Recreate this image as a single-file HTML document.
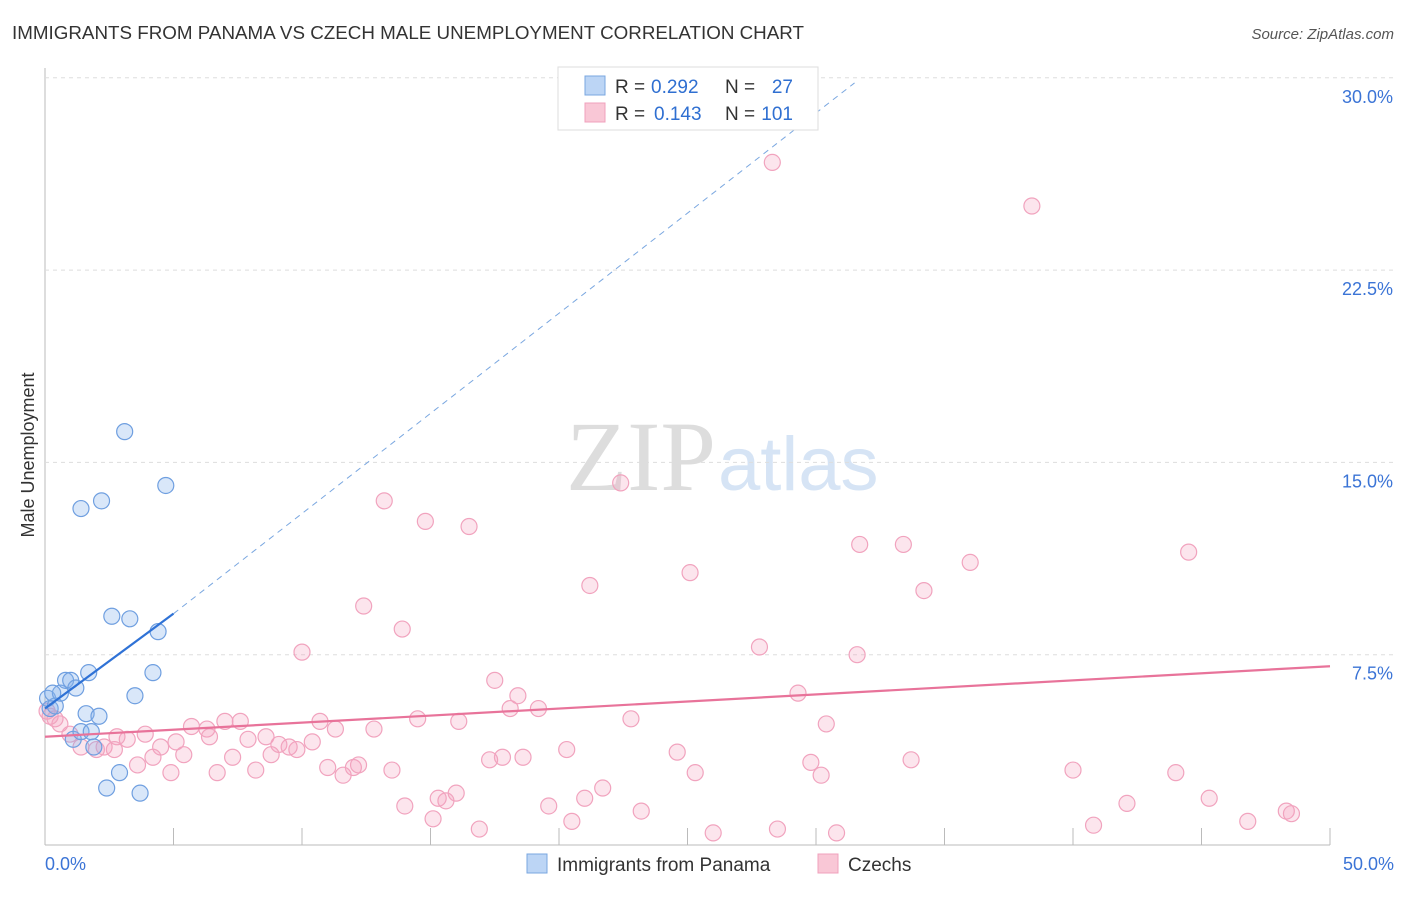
<!DOCTYPE html>
<html><head><meta charset="utf-8"><style>
body{margin:0;background:#fff;font-family:"Liberation Sans",sans-serif;}
svg text{font-family:"Liberation Sans",sans-serif;}
</style></head><body>
<svg id="c" width="1406" height="892">
<text x="12" y="39" font-size="18" fill="#333" textLength="792" lengthAdjust="spacingAndGlyphs">IMMIGRANTS FROM PANAMA VS CZECH MALE UNEMPLOYMENT CORRELATION CHART</text>
<text x="1394" y="39" font-size="15" fill="#555" font-style="italic" text-anchor="end">Source: ZipAtlas.com</text>
<text x="716" y="490" font-size="100" fill="#ddd" text-anchor="end" style="font-family:'Liberation Serif',serif">ZIP</text>
<text x="718" y="490" font-size="76" fill="#d6e4f5">atlas</text>
<text transform="translate(34,455) rotate(-90)" font-size="18" fill="#333" text-anchor="middle">Male Unemployment</text>
<g id="grid"></g><g id="marks"></g>
<g>
<rect x="558" y="67" width="260" height="63" fill="#fff" stroke="#ddd"/>
<rect x="585" y="76" width="20" height="19" fill="#bcd5f5" stroke="#7aa7e0"/>
<rect x="585" y="103" width="20" height="19" fill="#f9c7d6" stroke="#f0a0bc"/>
<text x="615" y="93" font-size="19" fill="#333">R =</text>
<text x="651" y="93" font-size="19" fill="#2f6fd1">0.292</text>
<text x="725" y="93" font-size="19" fill="#333">N =</text>
<text x="793" y="93" font-size="19" fill="#2f6fd1" text-anchor="end">27</text>
<text x="615" y="120" font-size="19" fill="#333">R =</text>
<text x="654" y="120" font-size="19" fill="#2f6fd1">0.143</text>
<text x="725" y="120" font-size="19" fill="#333">N =</text>
<text x="793" y="120" font-size="19" fill="#2f6fd1" text-anchor="end">101</text>
</g>
<g>
<rect x="527" y="854" width="20" height="19" fill="#bcd5f5" stroke="#7aa7e0"/>
<text x="557" y="871" font-size="19" fill="#333">Immigrants from Panama</text>
<rect x="818" y="854" width="20" height="19" fill="#f9c7d6" stroke="#f0a0bc"/>
<text x="848" y="871" font-size="19" fill="#333">Czechs</text>
</g>
</svg>
<script>
const yTicks=[7.5,15,22.5,30];
const xTickLabels=["0.0%","50.0%"];
const blueX=[0.1,0.2,0.4,0.6,0.8,1.0,1.2,1.7,1.6,2.1,1.1,1.4,1.8,1.9,1.4,2.2,3.1,4.7,2.6,3.3,4.4,4.2,3.5,2.9,2.4,3.7,0.3];
const blueY=[5.8,5.4,5.5,6.0,6.5,6.5,6.2,6.8,5.2,5.1,4.2,4.5,4.5,3.9,13.2,13.5,16.2,14.1,9.0,8.9,8.4,6.8,5.9,2.9,2.3,2.1,6.0];
const pinkX=[28.3,38.4,13.2,22.4,14.8,16.5,31.7,33.4,44.5,36.0,25.1,21.2,34.2,12.4,13.9,27.8,31.6,10.0,17.5,18.4,29.3,19.2,18.1,22.8,14.5,16.1,30.4,10.7,11.3,12.8,7.6,7.0,6.3,5.7,6.4,3.2,2.8,3.9,5.1,4.5,7.9,8.6,9.1,9.5,9.8,10.4,2.3,2.0,2.7,1.4,0.97,0.58,0.39,20.3,24.6,5.4,4.2,7.3,8.8,17.3,17.8,18.6,33.7,29.8,3.6,4.9,6.7,8.2,11.0,11.6,12.0,12.2,13.5,25.3,30.2,40.0,44.0,21.7,21.0,16.0,15.3,15.6,42.1,45.3,14.0,19.6,23.2,48.3,48.5,15.1,20.5,46.8,16.9,26.0,28.5,30.8,40.8,0.08,0.2];
const pinkY=[26.7,25.0,13.5,14.2,12.7,12.5,11.8,11.8,11.5,11.1,10.7,10.2,10.0,9.4,8.5,7.8,7.5,7.6,6.5,5.9,6.0,5.4,5.4,5.0,5.0,4.9,4.8,4.9,4.6,4.6,4.9,4.9,4.6,4.7,4.3,4.2,4.3,4.4,4.1,3.9,4.2,4.3,4.0,3.9,3.8,4.1,3.9,3.8,3.8,3.9,4.4,4.8,5.0,3.8,3.7,3.6,3.5,3.5,3.6,3.4,3.5,3.5,3.4,3.3,3.2,2.9,2.9,3.0,3.1,2.8,3.1,3.2,3.0,2.9,2.8,3.0,2.9,2.3,1.9,2.1,1.9,1.8,1.7,1.9,1.6,1.6,1.4,1.4,1.3,1.1,1.0,1.0,0.7,0.55,0.7,0.55,0.85,5.3,5.1];
const X0=45,X1=1330,Y0=847,YS=25.64;
const sx=v=>X0+(X1-X0)*v/50, sy=v=>Y0-v*YS;
const NS="http://www.w3.org/2000/svg";
function mk(t,a,p){const e=document.createElementNS(NS,t);for(const k in a)e.setAttribute(k,a[k]);p.appendChild(e);return e;}
const g=document.getElementById('grid'),m=document.getElementById('marks');
mk('line',{x1:X0,y1:68,x2:X0,y2:845,stroke:'#bbb'},g);
mk('line',{x1:X0,y1:845,x2:X1,y2:845,stroke:'#bbb'},g);
yTicks.forEach(v=>{
 const l=mk('line',{x1:X0,y1:sy(v),x2:1394,y2:sy(v),stroke:'#ddd','stroke-dasharray':'4,4'},g);
 
 
 const t=mk('text',{x:1393,y:sy(v)+25,'font-size':18,fill:'#3b74d6','text-anchor':'end'},g);
 t.textContent=v.toFixed(1)+'%';
 
 
});
for(let i=0;i<=10;i++){const l=mk('line',{x1:sx(i*5),y1:828,x2:sx(i*5),y2:845,stroke:'#bbb'},g);
 }
const t0=mk('text',{x:45,y:870,'font-size':18,fill:'#3b74d6'},g);t0.textContent=xTickLabels[0];

const t1=mk('text',{x:1394,y:870,'font-size':18,fill:'#3b74d6','text-anchor':'end'},g);t1.textContent=xTickLabels[1];

pinkX.forEach((x,i)=>{const c=mk('circle',{cx:sx(x),cy:sy(pinkY[i]),r:8,fill:'rgba(244,160,190,0.28)',stroke:'#f1a3be','stroke-width':1.2},m);
 
 });
blueX.forEach((x,i)=>{const c=mk('circle',{cx:sx(x),cy:sy(blueY[i]),r:8,fill:'rgba(130,175,235,0.3)',stroke:'#6f9fe0','stroke-width':1.2},m);
 
 });
const pl=mk('line',{x1:sx(0),y1:sy(4.3),x2:sx(50),y2:sy(7.05),stroke:'#e8739a','stroke-width':2.2},m);

const bd=mk('line',{x1:sx(5),y1:sy(9.1),x2:sx(31.5),y2:sy(29.8),stroke:'#7aa7e0','stroke-width':1,'stroke-dasharray':'6,5'},m);

const bl=mk('line',{x1:sx(0),y1:sy(5.4),x2:sx(5),y2:sy(9.1),stroke:'#2f72d6','stroke-width':2.2},m);

</script>
</body></html>
